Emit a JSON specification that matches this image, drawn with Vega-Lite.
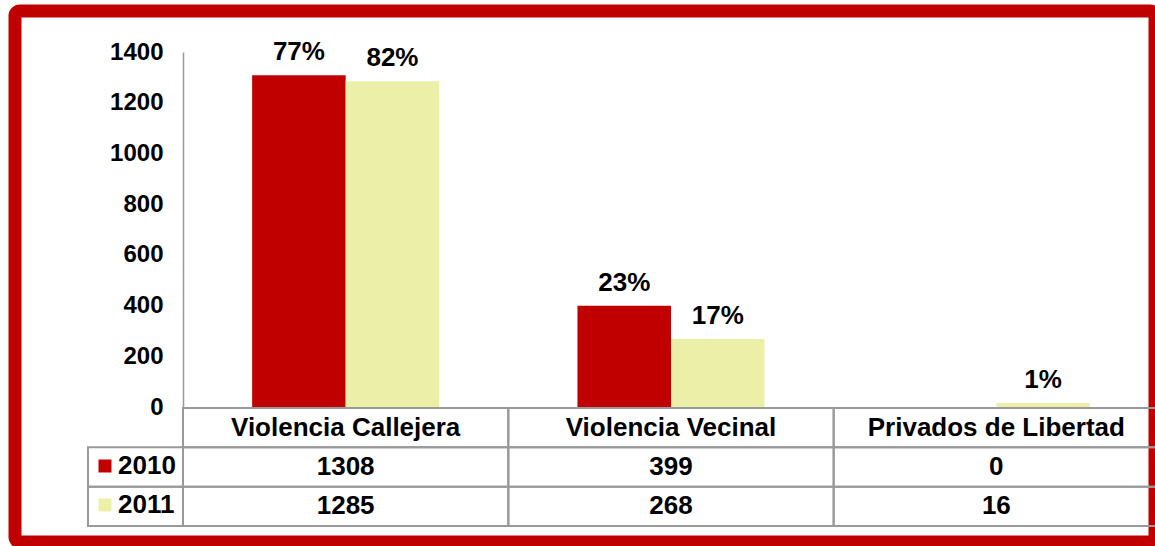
{
  "$schema": "https://vega.github.io/schema/vega-lite/v6.json",
  "width": 1140,
  "height": 531,
  "autosize": {"type": "none"},
  "padding": {"left": 15, "top": 11, "right": 0, "bottom": 4},
  "background": "white",
  "config": {
    "view": {"stroke": "#C00000", "strokeWidth": 13, "fill": "white", "cornerRadius": 5},
    "font": "Liberation Sans"
  },
  "data": {
    "values": [
      {"category": "Violencia Callejera", "year": "2010", "value": 1308, "pct": "77%"},
      {"category": "Violencia Callejera", "year": "2011", "value": 1285, "pct": "82%"},
      {"category": "Violencia Vecinal", "year": "2010", "value": 399, "pct": "23%"},
      {"category": "Violencia Vecinal", "year": "2011", "value": 268, "pct": "17%"},
      {"category": "Privados de Libertad", "year": "2010", "value": 0, "pct": ""},
      {"category": "Privados de Libertad", "year": "2011", "value": 16, "pct": "1%"}
    ]
  },
  "resolve": {"scale": {"x": "independent", "y": "independent"}},
  "layer": [
    {
      "layer": [
        {
          "mark": {"type": "bar"},
          "encoding": {
            "x": {"field": "category", "type": "nominal", "scale": {"type": "band", "domain": ["Violencia Callejera", "Violencia Vecinal", "Privados de Libertad"], "range": [168, 1144], "paddingInner": 0.425, "paddingOuter": 0.2125}, "axis": null},
            "xOffset": {"field": "year", "type": "nominal", "scale": {"domain": ["2010", "2011"]}},
            "y": {"field": "value", "type": "quantitative", "scale": {"domain": [0, 1400], "range": [396, 41], "nice": false},
              "axis": {"values": [0, 200, 400, 600, 800, 1000, 1200, 1400], "format": "d", "ticks": false, "grid": false, "domainColor": "#999999", "domainWidth": 1.5, "labelFontSize": 24, "labelFontWeight": "bold", "labelColor": "black", "labelFont": "Liberation Sans", "labelPadding": 20, "title": null, "offset": -168, "labelOverlap": false}},
            "color": {"field": "year", "type": "nominal", "scale": {"domain": ["2010", "2011"], "range": ["#C00000", "#ECEFA8"]},
              "legend": {"orient": "none", "legendX": 77, "legendY": 442, "title": null, "symbolType": "square", "symbolSize": 169, "symbolStrokeWidth": 0, "symbolOpacity": 1, "labelFontSize": 26, "labelFontWeight": "bold", "labelFont": "Liberation Sans", "labelColor": "black", "labelOffset": 0, "rowPadding": 13, "padding": 0}}
          }
        },
        {
          "mark": {"type": "text", "fontSize": 26, "fontWeight": "bold", "font": "Liberation Sans", "baseline": "alphabetic", "dy": -15, "color": "black"},
          "encoding": {
            "x": {"field": "category", "type": "nominal", "scale": {"type": "band", "domain": ["Violencia Callejera", "Violencia Vecinal", "Privados de Libertad"], "range": [168, 1144], "paddingInner": 0.425, "paddingOuter": 0.2125}, "axis": null},
            "xOffset": {"field": "year", "type": "nominal", "scale": {"domain": ["2010", "2011"]}},
            "y": {"field": "value", "type": "quantitative"},
            "text": {"field": "pct"}
          }
        }
      ]
    },
    {
      "layer": [
        {
          "transform": [{"filter": "datum.year == '2010'"}],
          "mark": {"type": "rect", "fill": "white", "fillOpacity": 0, "stroke": "#999999", "strokeWidth": 2},
          "encoding": {
            "x": {"field": "category", "type": "nominal", "scale": {"type": "band", "domain": ["Violencia Callejera", "Violencia Vecinal", "Privados de Libertad"], "range": [168, 1144], "padding": 0}, "axis": null},
            "y": {"datum": "Categoría", "type": "nominal", "scale": {"type": "band", "domain": ["Categoría", "2010", "2011"], "range": [397, 515], "padding": 0}, "axis": null}
          }
        },
        {
          "mark": {"type": "rect", "fill": "white", "fillOpacity": 0, "stroke": "#999999", "strokeWidth": 2},
          "encoding": {
            "x": {"field": "category", "type": "nominal"},
            "y": {"field": "year", "type": "nominal"}
          }
        },
        {
          "transform": [{"filter": "datum.year == '2010'"}],
          "mark": {"type": "text", "fontSize": 26, "fontWeight": "bold", "font": "Liberation Sans", "baseline": "middle", "color": "black"},
          "encoding": {
            "x": {"field": "category", "type": "nominal"},
            "y": {"datum": "Categoría", "type": "nominal"},
            "text": {"field": "category"}
          }
        },
        {
          "mark": {"type": "text", "fontSize": 26, "fontWeight": "bold", "font": "Liberation Sans", "baseline": "middle", "color": "black"},
          "encoding": {
            "x": {"field": "category", "type": "nominal"},
            "y": {"field": "year", "type": "nominal"},
            "text": {"field": "value"}
          }
        }
      ]
    },
    {
      "transform": [{"filter": "datum.category == 'Violencia Callejera'"}],
      "mark": {"type": "rect", "fill": "white", "fillOpacity": 0, "stroke": "#999999", "strokeWidth": 2},
      "encoding": {
        "x": {"datum": "Año", "type": "nominal", "scale": {"type": "band", "domain": ["Año"], "range": [73, 168], "padding": 0}, "axis": null},
        "y": {"field": "year", "type": "nominal", "scale": {"type": "band", "domain": ["Categoría", "2010", "2011"], "range": [397, 515], "padding": 0}, "axis": null}
      }
    }
  ]
}
